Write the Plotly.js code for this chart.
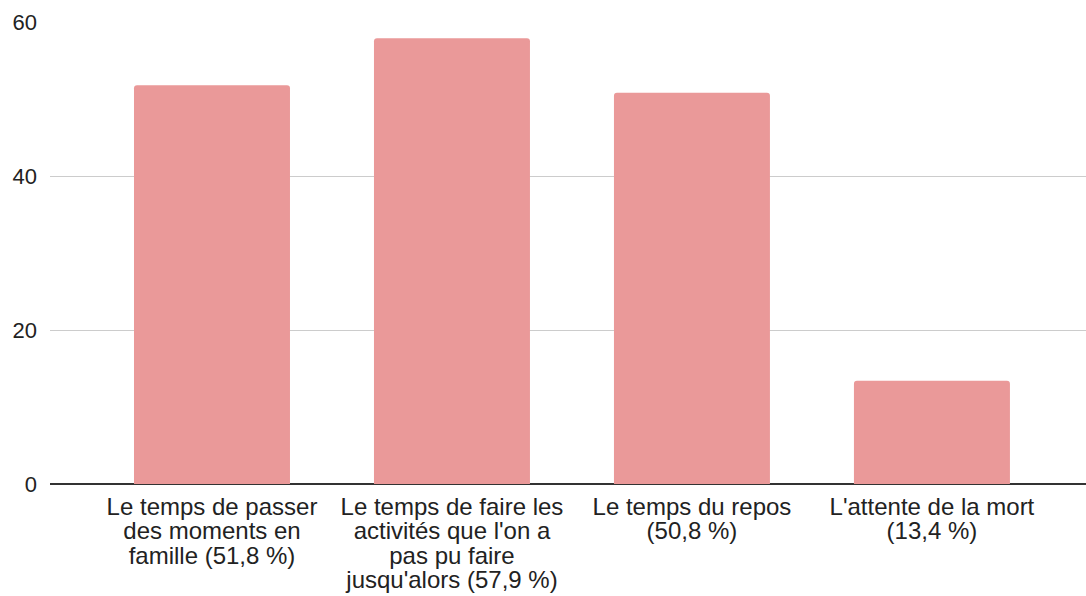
<!DOCTYPE html>
<html>
<head>
<meta charset="utf-8">
<script src="https://cdn.plot.ly/plotly-3.0.1.min.js"></script>
<style>
html,body{margin:0;padding:0;background:#fff;}
#chart{width:1086px;height:596px;}
</style>
</head>
<body>
<div id="chart"></div>
<script>
const categories = [
  "Le temps de passer<br>des moments en<br>famille (51,8 %)",
  "Le temps de faire les<br>activités que l'on a<br>pas pu faire<br>jusqu'alors (57,9 %)",
  "Le temps du repos<br>(50,8 %)",
  "L'attente de la mort<br>(13,4 %)"
];
const values = [51.8, 57.9, 50.8, 13.4];
const yTicks = [0, 20, 40, 60];

const trace = {
  type: 'bar',
  x: [0, 1, 2, 3],
  y: values,
  width: 0.65,
  marker: {color: '#ea9999', cornerradius: 3, line: {width: 0}},
  hoverinfo: 'none'
};

const layout = {
  width: 1086, height: 596,
  margin: {l: 50, r: 0, t: 22, b: 112, pad: 0},
  paper_bgcolor: '#fff', plot_bgcolor: '#fff',
  font: {family: 'Liberation Sans, Arial, sans-serif', color: '#222', size: 22},
  showlegend: false,
  xaxis: {
    range: [-0.675, 3.642],
    tickmode: 'array', tickvals: [0, 1, 2, 3], ticktext: categories,
    showgrid: false, zeroline: false, showline: false,
    ticks: '', ticklabelstandoff: 6,
    tickfont: {size: 24, color: '#222'},
    fixedrange: true
  },
  yaxis: {
    range: [0, 60],
    tickmode: 'array', tickvals: yTicks, ticktext: yTicks.map(String),
    showgrid: true, gridcolor: '#cccccc', gridwidth: 1,
    zeroline: true, zerolinecolor: '#333333', zerolinewidth: 2,
    showline: false, ticks: '', ticklabelstandoff: 12,
    tickfont: {size: 22, color: '#222'},
    fixedrange: true
  }
};

Plotly.newPlot('chart', [trace], layout, {staticPlot: true, displayModeBar: false}).then(function(gd){
  // tighten multi-line tick label spacing to match reference
  gd.querySelectorAll('.xtick text').forEach(function(txt){
    txt.querySelectorAll('tspan.line').forEach(function(t, i){
      t.setAttribute('dy', (i * 1.02).toFixed(2) + 'em');
    });
  });
});
</script>
</body>
</html>
